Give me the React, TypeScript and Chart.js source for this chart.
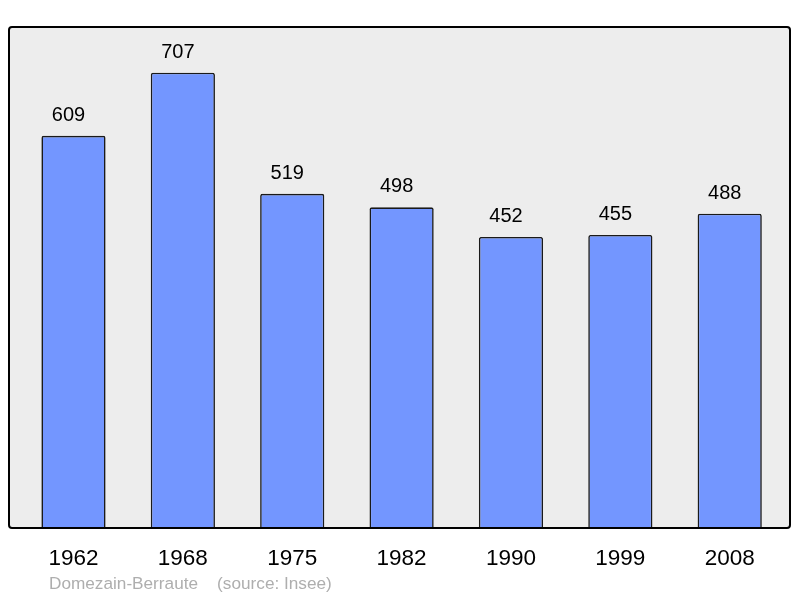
import React, { useEffect, useRef } from "react";
import { Chart, registerables } from "chart.js";

Chart.register(...registerables);

const categories = ["1962", "1968", "1975", "1982", "1990", "1999", "2008"];
const population = [609, 707, 519, 498, 452, 455, 488];
const yMax = 778;
const caption = "Domezain-Berraute    (source: Insee)";

const FONT = '"Liberation Sans", Arial, sans-serif';

const framePlugin = {
  id: "frame",
  beforeDraw(chart: any) {
    const { ctx } = chart;
    const a = chart.chartArea;
    const x = 9, y = a.top, w = 790 - 9, h = a.bottom - a.top;
    ctx.save();
    ctx.fillStyle = "#ededed";
    ctx.beginPath();
    ctx.roundRect(x, y, w, h, 3);
    ctx.fill();
    ctx.restore();
  },
  afterDatasetsDraw(chart: any) {
    const { ctx } = chart;
    const a = chart.chartArea;
    const x = 9, y = a.top, w = 790 - 9, h = a.bottom - a.top;
    ctx.save();
    ctx.strokeStyle = "#000";
    ctx.lineWidth = 2;
    ctx.beginPath();
    ctx.roundRect(x, y, w, h, 3);
    ctx.stroke();
    // value labels
    const meta = chart.getDatasetMeta(0);
    ctx.fillStyle = "#000";
    ctx.font = `20px ${FONT}`;
    ctx.textAlign = "center";
    ctx.textBaseline = "middle";
    meta.data.forEach((bar: any, i: number) => {
      ctx.fillText(String(chart.data.datasets[0].data[i]), bar.x - 5, bar.y - 20.5);
    });
    // caption
    ctx.fillStyle = "#aeaeae";
    ctx.font = `17.2px ${FONT}`;
    ctx.textAlign = "left";
    ctx.fillText(caption, 49, 584.5);
    ctx.restore();
  },
};

export default function App() {
  const ref = useRef<HTMLCanvasElement>(null);
  useEffect(() => {
    if (!ref.current) return;
    const chart = new Chart(ref.current, {
      type: "bar",
      data: {
        labels: categories,
        datasets: [
          {
            data: population,
            backgroundColor: "#7396ff",
            borderColor: "#1a1a1a",
            borderWidth: 1.6,
            borderRadius: 2,
            borderSkipped: "start",
            barPercentage: 0.587,
            categoryPercentage: 1,
          },
        ],
      },
      options: {
        animation: false,
        responsive: true,
        maintainAspectRatio: false,
        layout: { padding: { left: 18.8, right: 15.6, top: 27, bottom: 0 } },
        plugins: { legend: { display: false }, tooltip: { enabled: false }, title: { display: false } },
        scales: {
          x: {
            grid: { display: false, drawTicks: false },
            border: { display: false },
            ticks: { color: "#000", font: { size: 22.5, family: FONT }, padding: 17, maxRotation: 0 },
            afterFit: (axis: any) => {
              axis.height = 70;
            },
          },
          y: {
            display: false,
            min: 0,
            max: yMax,
          },
        },
      },
      plugins: [framePlugin],
    });
    return () => chart.destroy();
  }, []);
  return (
    <div style={{ position: "absolute", left: 0, top: 0, width: 800, height: 598, background: "#fff" }}>
      <canvas ref={ref} />
    </div>
  );
}
